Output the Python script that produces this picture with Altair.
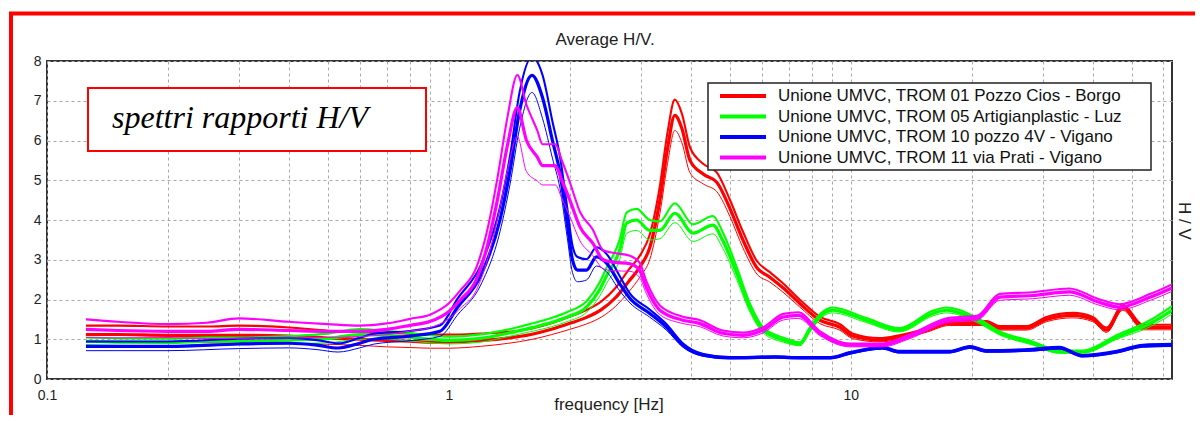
import altair as alt
import pandas as pd

# ---------------- data ----------------
series_names = [
    "Unione UMVC, TROM 01 Pozzo Cios - Borgo",
    "Unione UMVC, TROM 05 Artigianplastic  - Luz",
    "Unione UMVC, TROM 10 pozzo 4V - Vigano",
    "Unione UMVC, TROM 11 via Prati - Vigano",
]
series_colors = ["#ff0000", "#00ff00", "#0000ff", "#ff00ff"]

x_ticks = [0.1, 0.2, 0.3, 0.4, 0.5, 0.6, 0.7, 0.8, 0.9,
           1, 2, 3, 4, 5, 6, 7, 8, 9,
           10, 20, 30, 40, 50, 60]
y_ticks = [0, 1, 2, 3, 4, 5, 6, 7, 8]

# TROM 01 (red): frequency, mean H/V, std factor
red_f = [0.125, 0.15, 0.2, 0.25, 0.3, 0.4, 0.5, 0.6, 0.7, 0.8, 0.9, 1.0,
         1.2, 1.4, 1.6, 1.8, 2.0, 2.2, 2.4, 2.6, 2.8, 3.0, 3.16, 3.35, 3.5,
         3.65, 3.8, 3.98, 4.3, 4.64, 5.0, 5.39, 5.84, 6.29, 6.77, 7.47, 8.37,
         9.4, 10.1, 11.8, 13.2, 15.5, 17.6, 20, 21.8, 23.5, 27.4, 30.7, 35.7,
         40, 43.3, 47.5, 53.3, 63]
red_m = [1.12, 1.12, 1.1, 1.1, 1.1, 1.08, 1.03, 1.0, 0.97, 0.95, 0.93, 0.93,
         0.97, 1.03, 1.12, 1.25, 1.4, 1.55, 1.75, 2.05, 2.45, 2.85, 3.3, 4.5,
         5.8, 6.63, 6.3, 5.5, 5.15, 4.95, 4.3, 3.5, 2.8, 2.56, 2.3, 1.9, 1.48,
         1.3, 1.08, 0.98, 1.05, 1.23, 1.4, 1.4, 1.4, 1.28, 1.28, 1.5, 1.6,
         1.5, 1.23, 1.8, 1.3, 1.3]
red_s = [1.2, 1.2, 1.2, 1.2, 1.22, 1.2, 1.18, 1.18, 1.2, 1.2, 1.2, 1.2,
         1.18, 1.15, 1.13, 1.12, 1.12, 1.12, 1.12, 1.12, 1.12, 1.1,
         1.1, 1.08, 1.07, 1.06, 1.06, 1.06,
         1.05, 1.05, 1.05, 1.06, 1.06, 1.05, 1.05, 1.05, 1.06, 1.06, 1.06,
         1.05, 1.05, 1.04, 1.04, 1.04, 1.04, 1.04, 1.04, 1.04, 1.04, 1.04,
         1.05, 1.04, 1.05, 1.05]

# TROM 05 (green)
green_f = [0.125, 0.15, 0.2, 0.25, 0.3, 0.4, 0.5, 0.6, 0.7, 0.8, 0.9, 1.0,
           1.2, 1.4, 1.62, 1.8, 1.97, 2.2, 2.37, 2.47, 2.66, 2.77, 2.93, 3.16,
           3.35, 3.65, 4.05, 4.54, 4.8, 5.2, 5.6, 6.05, 6.8, 7.47, 7.9, 8.37,
           9.0, 10.9, 13.2, 16, 17.3, 20.6, 23.5, 28.3, 33, 37.8, 45.9, 55.7, 63]
green_m = [0.95, 0.93, 0.92, 0.95, 0.95, 0.98, 1.02, 1.12, 1.1, 1.05, 1.0, 0.97,
           1.02, 1.15, 1.3, 1.42, 1.56, 1.81, 2.24, 2.6, 3.24, 3.92, 4.0, 3.74,
           3.74, 4.17, 3.67, 3.87, 3.49, 2.66, 1.81, 1.23, 0.98, 0.88, 1.23, 1.56,
           1.73, 1.48, 1.23, 1.65, 1.73, 1.48, 1.15, 0.9, 0.68, 0.68, 1.05, 1.4, 1.73]
green_s = [1.1, 1.1, 1.1, 1.1, 1.1, 1.1, 1.12, 1.12, 1.1, 1.1, 1.1, 1.1,
           1.1, 1.08, 1.08, 1.08, 1.08, 1.08, 1.08, 1.08, 1.08, 1.07,
           1.07, 1.07, 1.06, 1.06, 1.06, 1.06, 1.06, 1.06, 1.06, 1.06,
           1.06, 1.05, 1.05, 1.04, 1.04, 1.04, 1.04, 1.04, 1.04, 1.04,
           1.04, 1.05, 1.05, 1.05, 1.05, 1.06, 1.06]

# TROM 10 (blue)
blue_f = [0.125, 0.2, 0.3, 0.4, 0.47, 0.53, 0.6, 0.65, 0.8, 0.95,
          1.05, 1.2, 1.34, 1.42, 1.5, 1.61, 1.71, 1.81, 1.89, 1.97,
          2.03, 2.09, 2.2, 2.33, 2.47, 2.66, 2.82, 3.16, 3.48, 3.82,
          4.3, 5.0, 6.5, 7.5, 8.9, 9.95, 12, 13.2, 17.6, 19.8,
          21.8, 28.3, 33, 37.8, 45.9, 53.3, 63]
blue_m = [0.82, 0.82, 0.88, 0.9, 0.85, 0.78, 0.9, 1.0, 1.08, 1.2,
          1.8, 2.6, 4.0, 5.25, 6.75, 7.64, 7.08, 6.0, 5.18, 3.92,
          3.0, 2.74, 2.74, 3.07, 2.91, 2.4, 2.03, 1.65, 1.3, 0.85,
          0.6, 0.53, 0.55, 0.53, 0.53, 0.65, 0.78, 0.68, 0.68, 0.8,
          0.7, 0.73, 0.78, 0.58, 0.68, 0.83, 0.85]
blue_s = [1.15, 1.15, 1.15, 1.15, 1.15, 1.15, 1.15, 1.14, 1.12, 1.12,
          1.12, 1.1, 1.08, 1.07, 1.07, 1.06, 1.08, 1.08, 1.08, 1.1,
          1.12, 1.12, 1.1, 1.08, 1.08, 1.08, 1.06, 1.06, 1.06, 1.06,
          1.05, 1.04, 1.04, 1.04, 1.04, 1.04, 1.04, 1.04, 1.04, 1.04,
          1.04, 1.04, 1.04, 1.04, 1.04, 1.04, 1.04]

# TROM 11 (magenta)
mag_f = [0.125, 0.15, 0.2, 0.25, 0.3, 0.4, 0.5, 0.6, 0.7, 0.8,
         0.9, 1.0, 1.07, 1.17, 1.25, 1.32, 1.4, 1.48, 1.56, 1.66,
         1.71, 1.84, 1.91, 2.0, 2.12, 2.28, 2.42, 2.56, 2.82, 2.98,
         3.1, 3.35, 3.82, 4.2, 4.8, 5.4, 6.05, 6.8, 7.4, 8.37,
         9.95, 12, 13.9, 17.6, 20.6, 23.5, 28.3, 35, 41.5, 46.6, 55.7, 63]
mag_m = [1.25, 1.22, 1.2, 1.2, 1.25, 1.22, 1.2, 1.2, 1.25, 1.35,
         1.45, 1.7, 2.0, 2.5, 3.4, 4.5, 5.9, 6.83, 6.0, 5.58,
         5.37, 5.37, 5.0, 4.5, 3.82, 3.42, 3.0, 2.94, 2.9, 2.74,
         2.3, 1.73, 1.48, 1.4, 1.15, 1.1, 1.23, 1.56, 1.6, 1.15,
         0.85, 0.85, 1.05, 1.48, 1.53, 2.06, 2.1, 2.19, 1.93, 1.81, 2.06, 2.29]
mag_s = [1.2, 1.18, 1.15, 1.18, 1.22, 1.18, 1.15, 1.12, 1.12, 1.12,
         1.12, 1.12, 1.12, 1.12, 1.12, 1.12, 1.12, 1.12, 1.15, 1.12,
         1.1, 1.1, 1.1, 1.1, 1.1, 1.1, 1.08, 1.08, 1.07, 1.07,
         1.07, 1.07, 1.06, 1.06, 1.06, 1.06, 1.06, 1.05, 1.05, 1.05,
         1.05, 1.05, 1.05, 1.04, 1.04, 1.04, 1.04, 1.04, 1.04, 1.04, 1.04, 1.04]

all_f = [red_f, green_f, blue_f, mag_f]
all_m = [red_m, green_m, blue_m, mag_m]
all_s = [red_s, green_s, blue_s, mag_s]

# ---------------- build table ----------------
records = []
for name, fs, ms, ss in zip(series_names, all_f, all_m, all_s):
    for kind in ["upper", "lower", "mean"]:
        for f, m, s in zip(fs, ms, ss):
            if kind == "upper":
                v = m * s
            elif kind == "lower":
                v = m / s
            else:
                v = m
            records.append({"series": name, "kind": kind, "f": f, "v": v})
df = pd.DataFrame(records)

W, H = 1125, 318
SANS = "Liberation Sans"
GRID = "#a8a8a8"

x_enc = alt.X(
    "f:Q",
    scale=alt.Scale(type="log", domain=[0.1, 63], nice=False),
    axis=alt.Axis(
        values=x_ticks, format="~g",
        labelExpr="datum.value == 0.1 || datum.value == 1 || datum.value == 10 ? datum.label : ''",
        labelOverlap=False, labelFlush=False, title=None,
        grid=True, gridDash=[3, 3], gridColor=GRID, gridWidth=1,
        ticks=False, domain=False, labelPadding=9,
        labelFont=SANS, labelFontSize=14, labelColor="#222",
    ),
)
y_enc = alt.Y(
    "v:Q",
    scale=alt.Scale(domain=[0, 8], nice=False),
    axis=alt.Axis(
        values=y_ticks, title=None, grid=True, gridDash=[3, 3], gridColor=GRID,
        gridWidth=1, ticks=False, domain=False, labelPadding=6,
        labelFont=SANS, labelFontSize=14, labelColor="#222",
    ),
)

lines = alt.Chart(df).mark_line(clip=True, interpolate="monotone").encode(
    x=x_enc,
    y=y_enc,
    color=alt.Color("series:N", scale=alt.Scale(domain=series_names, range=series_colors), legend=None),
    strokeWidth=alt.StrokeWidth("kind:N", scale=alt.Scale(domain=["mean", "upper", "lower"], range=[3.2, 1, 1]), legend=None),
    detail="kind:N",
)

one = pd.DataFrame({"k": [0]})

# outer red frame of the picture
outer = alt.Chart(one).mark_rect(fill="transparent", stroke="#ff0000", strokeWidth=4).encode(
    x=alt.value(-36), x2=alt.value(1300), y=alt.value(-47.5), y2=alt.value(500)
)

title = alt.Chart(pd.DataFrame({"t": ["Average H/V."]})).mark_text(
    font=SANS, fontSize=17, color="#222", align="center", baseline="alphabetic"
).encode(x=alt.value(558), y=alt.value(-16), text="t:N")

xtitle = alt.Chart(pd.DataFrame({"t": ["frequency [Hz]"]})).mark_text(
    font=SANS, fontSize=17, color="#222", align="center", baseline="alphabetic"
).encode(x=alt.value(562), y=alt.value(349), text="t:N")

ytitle = alt.Chart(pd.DataFrame({"t": ["H / V"]})).mark_text(
    font=SANS, fontSize=17, color="#222", align="center", baseline="middle", angle=90
).encode(x=alt.value(1137), y=alt.value(160), text="t:N")

# annotation box
note_box = alt.Chart(one).mark_rect(fill="white", stroke="#ff0000", strokeWidth=2).encode(
    x=alt.value(41), x2=alt.value(379), y=alt.value(27), y2=alt.value(90)
)
note_txt = alt.Chart(pd.DataFrame({"t": ["spettri rapporti H/V"]})).mark_text(
    font="Liberation Serif", fontStyle="italic", fontSize=32, color="black",
    align="left", baseline="alphabetic"
).encode(x=alt.value(65), y=alt.value(67), text="t:N")

# legend
legend_layers = [
    alt.Chart(one).mark_rect(fill="white", stroke="#222", strokeWidth=1.5).encode(
        x=alt.value(661), x2=alt.value(1104), y=alt.value(22), y2=alt.value(109)
    )
]
row_y = [35, 55.5, 76, 96.5]
for name, col, yy in zip(series_names, series_colors, row_y):
    legend_layers.append(
        alt.Chart(one).mark_rule(color=col, strokeWidth=4).encode(
            x=alt.value(673), x2=alt.value(719), y=alt.value(yy)
        )
    )
    legend_layers.append(
        alt.Chart(pd.DataFrame({"t": [name]})).mark_text(
            font=SANS, fontSize=17, color="#111", align="left", baseline="middle"
        ).encode(x=alt.value(731), y=alt.value(yy), text="t:N")
    )

chart = alt.layer(
    lines, outer, title, xtitle, ytitle, note_box, note_txt, *legend_layers
).properties(
    width=W, height=H, autosize="none",
    padding={"left": 39, "top": 53, "right": 23, "bottom": 36},
).configure_view(stroke="#333", strokeWidth=2)

chart.save("out.html", embed_options={"renderer": "svg", "actions": False})
